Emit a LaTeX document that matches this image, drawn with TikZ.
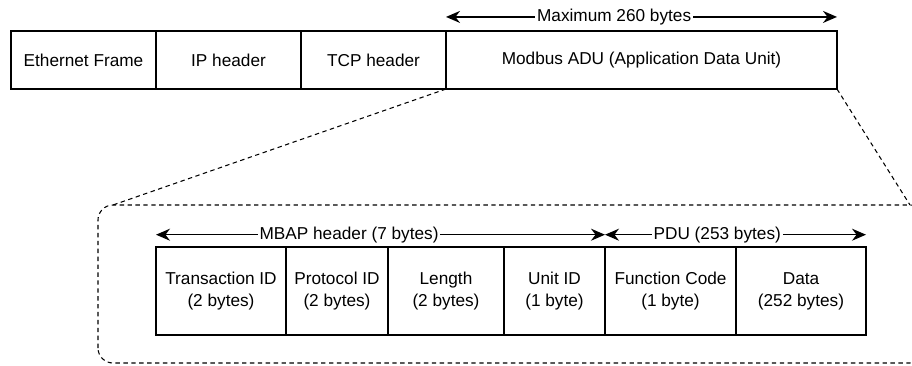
\documentclass[tikz,border=0pt]{standalone}
\usepackage{fontspec}
\setmainfont{Liberation Sans}
\usetikzlibrary{positioning,arrows.meta}

\tikzset{
  cell/.style={draw, line width=0.75pt, outer sep=0pt, inner sep=0pt, align=center},
  toprow/.style={cell, minimum height=1.16cm},
  botrow/.style={cell, minimum height=1.76cm},
  span/.style={line width=0.8pt, {Stealth[length=2.8mm,width=2.4mm]}-{Stealth[length=2.8mm,width=2.4mm]}},
  spanlabel/.style={fill=white, inner sep=1pt, pos=0.43},
  zoomline/.style={dash pattern=on 2.5pt off 2pt, line width=0.6pt},
}

\begin{document}
\begin{tikzpicture}[font=\fontsize{9.8}{12.5}\selectfont]
  \useasboundingbox (0,0) rectangle (18.24,7.3);
  % TCP/IP frame
  \node[toprow, minimum width=2.9cm] (eth) at (1.67,6.1) {Ethernet Frame};
  \node[toprow, minimum width=2.9cm, right=0pt of eth] (ip) {IP header};
  \node[toprow, minimum width=2.9cm, right=0pt of ip] (tcp) {TCP header};
  \node[toprow, minimum width=7.82cm, right=0pt of tcp] (adu) {Modbus ADU (Application Data Unit)};
  \draw[span] ([yshift=8pt]adu.north west) -- ([yshift=8pt]adu.north east) node[spanlabel] {Maximum 260 bytes};
  % zoom on the ADU
  \coordinate (zl) at (2.26,3.2);
  \coordinate (zr) at (18.2,3.2);
  \draw[zoomline, rounded corners=0.3cm] (1.96,0.04) rectangle (18.5,3.2);
  \draw[zoomline] (adu.south west) -- (zl);
  \draw[zoomline] (adu.south east) -- (zr);
  % ADU fields
  \node[botrow, minimum width=2.6cm] (tid) at (4.42,1.48) {Transaction ID\\(2 bytes)};
  \node[botrow, minimum width=2.04cm, right=0pt of tid] (pid) {Protocol ID\\(2 bytes)};
  \node[botrow, minimum width=2.32cm, right=0pt of pid] (len) {Length\\(2 bytes)};
  \node[botrow, minimum width=2.02cm, right=0pt of len] (uid) {Unit ID\\(1 byte)};
  \node[botrow, minimum width=2.62cm, right=0pt of uid] (fc) {Function Code\\(1 byte)};
  \node[botrow, minimum width=2.6cm, right=0pt of fc] (data) {Data\\(252 bytes)};
  \draw[span] ([yshift=7pt]tid.north west) -- ([yshift=7pt]uid.north east) node[spanlabel] {MBAP header (7 bytes)};
  \draw[span] ([yshift=7pt]fc.north west) -- ([yshift=7pt]data.north east) node[spanlabel] {PDU (253 bytes)};
\end{tikzpicture}
\end{document}
